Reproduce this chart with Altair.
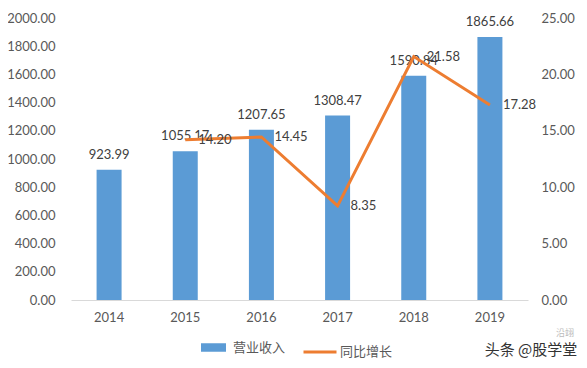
import altair as alt
import pandas as pd

years = ["2014", "2015", "2016", "2017", "2018", "2019"]
revenue = [923.99, 1055.17, 1207.65, 1308.47, 1590.84, 1865.66]
growth = [None, 14.20, 14.45, 8.35, 21.58, 17.28]

df = pd.DataFrame({"year": years, "revenue": revenue, "growth": growth,
                   "s1": "营业收入", "s2": "同比增长"})
dfl = df.dropna(subset=["growth"])

NUM_FONT = "Lato"
CJK_FONT = "Noto Sans CJK SC"
BLUE = "#5B9BD5"
ORANGE = "#ED7D31"

x = alt.X("year:N", title=None, sort=years,
          scale=alt.Scale(paddingInner=0, paddingOuter=0),
          axis=alt.Axis(labelAngle=0, ticks=False, domainColor="#d9d9d9",
                        labelColor="#595959", labelFont=NUM_FONT, labelFontSize=13,
                        labelPadding=11, grid=False))

yl = alt.Y("revenue:Q", title=None,
           scale=alt.Scale(domain=[0, 2000], nice=False),
           axis=alt.Axis(values=list(range(0, 2001, 200)), format=".2f", ticks=False,
                         domain=False, grid=False, labelColor="#595959",
                         labelFont=NUM_FONT, labelFontSize=13, labelPadding=16))

bars = alt.Chart(df).mark_bar(size=25).encode(
    x=x, y=yl,
    fill=alt.Fill("s1:N", scale=alt.Scale(domain=["营业收入"], range=[BLUE]),
                  legend=alt.Legend(title=None, orient="none", legendX=129, legendY=316,
                                    symbolType="M-1,-0.34H1V0.34H-1Z", symbolSize=625,
                                    labelFont=CJK_FONT, labelFontSize=13,
                                    labelColor="#595959", labelOffset=6))
)
bar_text = alt.Chart(df).mark_text(dy=-8, baseline="bottom", align="center",
                                   font=NUM_FONT, fontSize=13, color="#404040").encode(
    x=x, y=yl, text=alt.Text("revenue:Q", format=".2f"))

left = alt.layer(bars, bar_text)

yr = alt.Y("growth:Q", title=None,
           scale=alt.Scale(domain=[0, 25], nice=False),
           axis=alt.Axis(orient="right", values=[0, 5, 10, 15, 20, 25], format=".2f",
                         ticks=False, domain=False, grid=False, labelColor="#595959",
                         labelFont=NUM_FONT, labelFontSize=13, labelPadding=13))

line = alt.Chart(dfl).mark_line(strokeWidth=3).encode(
    x=x, y=yr,
    stroke=alt.Stroke("s2:N", scale=alt.Scale(domain=["同比增长"], range=[ORANGE]),
                      legend=alt.Legend(title=None, orient="none", legendX=231, legendY=316,
                                        symbolType="stroke", symbolSize=1089,
                                        symbolStrokeWidth=3,
                                        labelFont=CJK_FONT, labelFontSize=13,
                                        labelColor="#595959", labelOffset=2))
)
line_text = alt.Chart(dfl).mark_text(dx=13, align="left", baseline="middle",
                                     font=NUM_FONT, fontSize=13, color="#404040").encode(
    x=x, y=yr, text=alt.Text("growth:Q", format=".2f"))

right = alt.layer(line, line_text)

wm = alt.Chart(pd.DataFrame({"t": ["头条 @股学堂"]})).mark_text(
    align="center", baseline="middle", font=CJK_FONT, fontSize=15, color="#333333"
).encode(x=alt.value(460), y=alt.value(332), text="t:N")
wm2 = alt.Chart(pd.DataFrame({"t": ["沿翊"]})).mark_text(
    align="center", baseline="middle", font=CJK_FONT, fontSize=9, color="#bbbbbb"
).encode(x=alt.value(494), y=alt.value(315), text="t:N")

chart = alt.layer(left, right, wm, wm2).resolve_scale(
    y="independent", fill="independent", stroke="independent"
).properties(
    width=457, height=282,
    autosize=alt.AutoSizeParams(type="none"),
    padding={"left": 63, "top": 10, "right": 51, "bottom": 60},
).configure_view(stroke=None)

chart.save("out.html", embed_options={"renderer": "svg", "actions": False})
